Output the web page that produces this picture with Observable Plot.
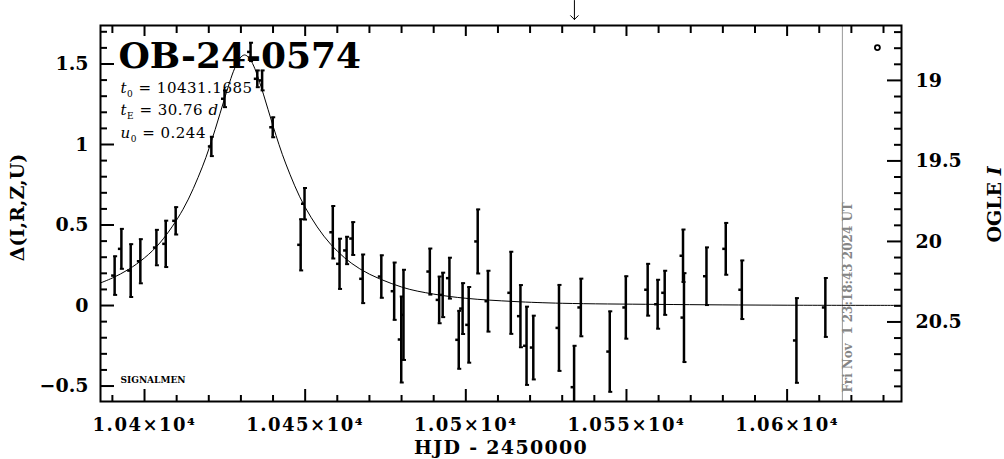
<!DOCTYPE html>
<html><head><meta charset="utf-8">
<script src="https://cdn.jsdelivr.net/npm/d3@7"></script>
<script src="https://cdn.jsdelivr.net/npm/@observablehq/plot@0.6"></script>
<style>html,body{margin:0;padding:0;background:#fff;} svg{display:block;}</style>
</head><body><div id="chart"></div>
<script>
// ---- data ----
const hjd = [10390.7, 10392.8, 10395.7, 10398.7, 10403.7, 10406.6, 10409.7, 10420.8, 10424.9, 10433.0,
  10435.1, 10436.6, 10439.9, 10448.6, 10449.8, 10458.6, 10460.7, 10462.9, 10464.8, 10467.9,
  10473.7, 10477.7, 10479.9, 10480.6, 10488.8, 10491.7, 10492.8, 10494.9, 10497.8, 10499.0,
  10500.9, 10503.7, 10506.9, 10514.0, 10517.0, 10518.9, 10521.0, 10529.0, 10533.7, 10535.8,
  10544.8, 10549.8, 10556.6, 10559.7, 10561.9, 10567.6, 10567.9, 10574.9, 10580.9, 10585.9,
  10602.9, 10611.9];
const delta = [0.186, 0.352, 0.217, 0.275, 0.360, 0.383, 0.526, 0.988, 1.284, 1.575,
  1.408, 1.398, 1.107, 0.377, 0.632, 0.455, 0.259, 0.342, 0.416, 0.166,
  0.180, 0.089, -0.211, -0.058, 0.211, 0.035, 0.066, 0.170, -0.213, -0.019,
  -0.120, 0.398, 0.027, 0.079, -0.066, -0.250, -0.261, -0.139, -0.507, -0.012,
  -0.286, -0.012, 0.098, 0.008, 0.079, 0.309, -0.075, 0.182, 0.352, 0.098,
  -0.217, -0.012];
const err = [0.120, 0.124, 0.164, 0.137, 0.110, 0.144, 0.085, 0.060, 0.052, 0.057,
  0.052, 0.062, 0.062, 0.159, 0.098, 0.163, 0.156, 0.085, 0.102, 0.151,
  0.132, 0.178, 0.267, 0.280, 0.143, 0.145, 0.138, 0.127, 0.180, 0.158,
  0.235, 0.199, 0.189, 0.255, 0.193, 0.243, 0.198, 0.267, 0.257, 0.179,
  0.250, 0.194, 0.161, 0.152, 0.137, 0.163, 0.276, 0.179, 0.161, 0.182,
  0.263, 0.183];
const modelT = [10386, 10390, 10395, 10400, 10405, 10412, 10418, 10422, 10425, 10428, 10430, 10431.2,
  10432.5, 10434, 10437, 10440, 10444, 10450, 10458, 10467, 10480, 10490, 10500, 10515, 10530, 10560, 10600, 10636];
const modelDelta = [0.138, 0.171, 0.224, 0.296, 0.394, 0.598, 0.861, 1.094, 1.291, 1.470, 1.543, 1.556,
  1.539, 1.487, 1.313, 1.115, 0.879, 0.610, 0.379, 0.228, 0.115, 0.071, 0.045, 0.025, 0.014, 0.007, 0.002, 0.001];

const xMajor = [10400, 10450, 10500, 10550, 10600];
const xMajorLabels = ["1.04×10⁴", "1.045×10⁴", "1.05×10⁴", "1.055×10⁴", "1.06×10⁴"];
const xMinor = [10390, 10410, 10420, 10430, 10440, 10460, 10470, 10480, 10490, 10510, 10520, 10530, 10540,
  10560, 10570, 10580, 10590, 10610, 10620, 10630];
const yMajor = [-0.5, 0, 0.5, 1, 1.5];
const yMajorLabels = ["−0.5", "0", "0.5", "1", "1.5"];
const yMinor = [-0.4, -0.3, -0.2, -0.1, 0.1, 0.2, 0.3, 0.4, 0.6, 0.7, 0.8, 0.9, 1.1, 1.2, 1.3, 1.4, 1.6, 1.7];
const magBase = 20.398;
const magMajor = [19, 19.5, 20, 20.5];
const magMajorLabels = ["19", "19.5", "20", "20.5"];
const magMinor = [18.7, 18.8, 18.9, 19.1, 19.2, 19.3, 19.4, 19.6, 19.7, 19.8, 19.9, 20.1, 20.2, 20.3, 20.4,
  20.6, 20.7, 20.8, 20.9];
const nowT = [10617.2];
const nowLabel = "Fri Nov  1 23:18:43 2024 UT";
const arrowT = [10533.8];
const markerT = [10628.1];
const markerDelta = [1.602];
const title = "OB-24-0574";
const params = ["t0 = 10431.1685", "tE = 30.76 d", "u0 = 0.244"];
const xLabel = "HJD - 2450000";
const yLabel = "Δ(I,R,Z,U)";
const y2Label = "OGLE I";
const credit = "SIGNALMEN";

// ---- layout ----
const W = 1004, H = 459, mL = 100, mR = 103, mT = 25, mB = 58;
const fw = W - mL - mR, fh = H - mT - mB;
const idx = d3.range(hjd.length);
const midx = d3.range(modelT.length);
const bold = {fontWeight: "bold"};
const mid = {lineAnchor: "middle"};

const plot = Plot.plot({
  width: W, height: H, marginLeft: mL, marginRight: mR, marginTop: mT, marginBottom: mB,
  style: {fontFamily: "'DejaVu Serif', serif", background: "#fff", overflow: "visible", color: "#000"},
  x: {domain: [10386.3, 10635.6], axis: null},
  y: {domain: [-0.596, 1.739], axis: null},
  marks: [
    // current date line and label
    Plot.ruleX(nowT, {x: d => d, stroke: "#999", strokeWidth: 1}),
    Plot.text(nowT, {x: d => d, text: () => nowLabel, frameAnchor: "bottom", rotate: -90, textAnchor: "start",
      ...mid, dx: 6, dy: -9, fill: "#858585", fontSize: 12, ...bold}),
    // model curve
    Plot.line(midx, {x: i => modelT[i], y: i => modelDelta[i], curve: "catmull-rom", stroke: "#000", strokeWidth: 1, clip: true}),
    // error bars
    Plot.ruleX(idx, {x: i => hjd[i], y1: i => delta[i] - err[i], y2: i => delta[i] + err[i], stroke: "#000", strokeWidth: 2.5, clip: true}),
    Plot.ruleY(idx, {y: i => delta[i] + err[i], x1: i => hjd[i], x2: i => hjd[i], insetLeft: -1, insetRight: -3, strokeWidth: 2, clip: true}),
    Plot.ruleY(idx, {y: i => delta[i] - err[i], x1: i => hjd[i], x2: i => hjd[i], insetLeft: -1, insetRight: -3, strokeWidth: 2, clip: true}),
    Plot.ruleY(idx, {y: i => delta[i], x1: i => hjd[i], x2: i => hjd[i], insetLeft: -3, insetRight: -1, strokeWidth: 2.5, clip: true}),
    // small circle marker
    Plot.dot(markerT, {x: d => d, y: (d, i) => markerDelta[i], r: 2.5, stroke: "#000", strokeWidth: 1.8, fill: "none"}),
    // arrow above the frame
    Plot.vector(arrowT, {x: d => d, frameAnchor: "top", dy: -6, length: 19, rotate: 180, anchor: "end", shape: "arrow", stroke: "#000", strokeWidth: 1}),
    // frame
    Plot.frame({stroke: "#000", strokeWidth: 2}),
    // left ticks
    Plot.ruleY(yMinor, {y: d => d, insetRight: fw - 7, strokeWidth: 2}),
    Plot.ruleY(yMajor, {y: d => d, insetRight: fw - 14, strokeWidth: 2}),
    // right ticks (OGLE I magnitude)
    Plot.ruleY(magMinor, {y: m => magBase - m, insetLeft: fw - 7, strokeWidth: 2}),
    Plot.ruleY(magMajor, {y: m => magBase - m, insetLeft: fw - 14, strokeWidth: 2}),
    // bottom ticks
    Plot.ruleX(xMinor, {x: d => d, insetTop: fh - 6, strokeWidth: 2}),
    Plot.ruleX(xMajor, {x: d => d, insetTop: fh - 12, strokeWidth: 2}),
    // top ticks
    Plot.ruleX(xMinor, {x: d => d, insetBottom: fh - 8, strokeWidth: 2}),
    Plot.ruleX(xMajor, {x: d => d, insetBottom: fh - 11, strokeWidth: 2}),
    // tick labels
    Plot.text(yMajor, {y: d => d, text: (d, i) => yMajorLabels[i], frameAnchor: "left", dx: -12, textAnchor: "end", ...mid, fontSize: 19, ...bold}),
    Plot.text(magMajor, {y: m => magBase - m, text: (d, i) => magMajorLabels[i], frameAnchor: "right", dx: 14, textAnchor: "start", ...mid, fontSize: 19, ...bold}),
    Plot.text(xMajor, {x: d => d, text: (d, i) => xMajorLabels[i], frameAnchor: "bottom", dy: 24, textAnchor: "middle", ...mid, fontSize: 18, ...bold}),
    // axis titles
    Plot.text([xLabel], {text: d => d, frameAnchor: "bottom", dy: 46, textAnchor: "middle", ...mid, fontSize: 19, ...bold}),
    Plot.text([yLabel], {text: d => d, frameAnchor: "left", dx: -83, dy: -6, rotate: -90, textAnchor: "middle", ...mid, fontSize: 19, ...bold}),
    Plot.text([y2Label], {text: d => d, frameAnchor: "right", dx: 93, dy: -9, rotate: -90, textAnchor: "middle", ...mid, fontSize: 19, ...bold}),
    // annotations
    Plot.text([title], {text: d => d, frameAnchor: "top-left", dx: 18, dy: 31, textAnchor: "start", ...mid, fontSize: 36, ...bold}),
    Plot.text([params[0]], {text: d => d, frameAnchor: "top-left", dx: 20, dy: 63, textAnchor: "start", ...mid, fontSize: 15}),
    Plot.text([params[1]], {text: d => d, frameAnchor: "top-left", dx: 20, dy: 85, textAnchor: "start", ...mid, fontSize: 15}),
    Plot.text([params[2]], {text: d => d, frameAnchor: "top-left", dx: 20, dy: 108, textAnchor: "start", ...mid, fontSize: 15}),
    Plot.text([credit], {text: d => d, frameAnchor: "bottom-left", dx: 20, dy: -21, textAnchor: "start", ...mid, fontSize: 9, ...bold})
  ]
});

// rich text: italics and subscripts; wider letter spacing for some labels
const rich = {
  "t0 = 10431.1685": [["t", "i"], ["0", "sub"], [" = 10431.1685"]],
  "tE = 30.76 d": [["t", "i"], ["E", "sub"], [" = 30.76 "], ["d", "i"]],
  "u0 = 0.244": [["u", "i"], ["0", "sub"], [" = 0.244"]],
  "OGLE I": [["OGLE "], ["I", "i"]]
};
const NS = "http://www.w3.org/2000/svg";
plot.querySelectorAll("text").forEach(el => {
  const s0 = el.textContent;
  if (xMajorLabels.includes(s0)) el.setAttribute("letter-spacing", "1.5");
  if (s0 === xLabel) el.setAttribute("letter-spacing", "1.3");
  if (params.includes(s0)) el.setAttribute("letter-spacing", "0.5");
  const spec = rich[s0];
  if (!spec) return;
  el.textContent = "";
  let shifted = false;
  spec.forEach(([s, k]) => {
    const ts = document.createElementNS(NS, "tspan");
    ts.textContent = s;
    if (k === "i") ts.setAttribute("font-style", "italic");
    if (k === "sub") { ts.setAttribute("dy", "4"); ts.setAttribute("font-size", "9"); shifted = true; }
    else if (shifted) { ts.setAttribute("dy", "-4"); shifted = false; }
    el.appendChild(ts);
  });
});
document.getElementById("chart").appendChild(plot);
</script>
</body></html>
